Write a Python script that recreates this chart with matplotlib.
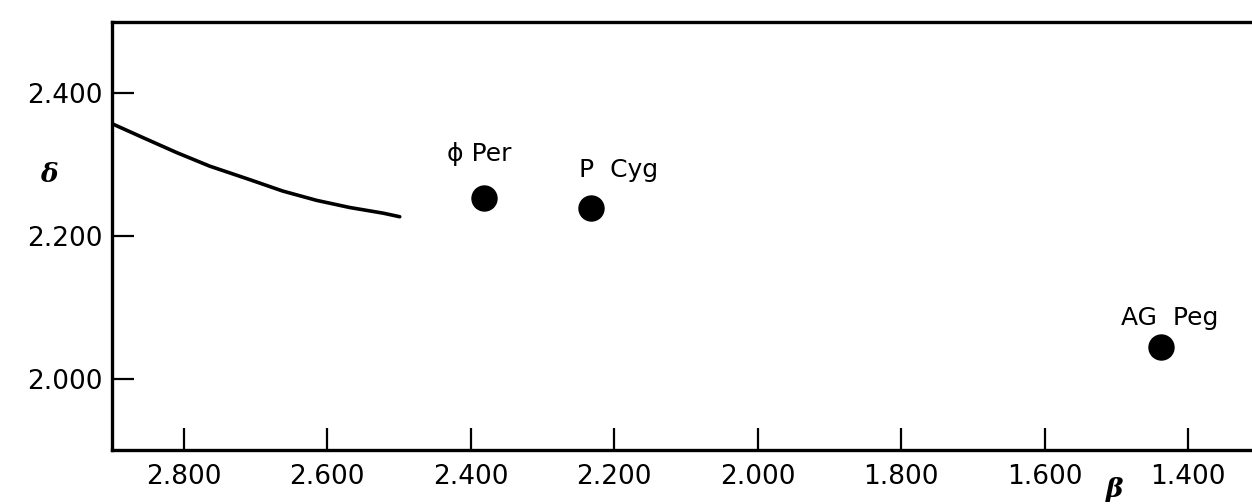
import matplotlib
matplotlib.use("Agg")
import matplotlib.pyplot as plt

# ---- data ----
curve_beta = [2.899, 2.857, 2.810, 2.764, 2.708, 2.662, 2.615, 2.569, 2.522, 2.499]
curve_delta = [2.357, 2.338, 2.317, 2.298, 2.279, 2.263, 2.250, 2.240, 2.232, 2.227]

star_names = ["\u03d5 Per", "P  Cyg", "AG  Peg"]
star_beta = [2.382, 2.233, 1.438]
star_delta = [2.253, 2.239, 2.044]

x_ticks = [2.8, 2.6, 2.4, 2.2, 2.0, 1.8, 1.6, 1.4]
x_ticklabels = ["2.800", "2.600", "2.400", "2.200", "2.000", "1.800", "1.600", "1.400"]
y_ticks = [2.0, 2.2, 2.4]
y_ticklabels = ["2.000", "2.200", "2.400"]

# ---- figure ----
DPI = 100
fig = plt.figure(figsize=(12.52, 5.04), dpi=DPI)
ax = fig.add_axes([112 / 1252, 54 / 504, 1148 / 1252, 428 / 504])

ax.set_xlim(2.9, 1.3)
ax.set_ylim(1.9, 2.5)

ax.plot(curve_beta, curve_delta, color="black", lw=2.6,
        solid_capstyle="round", solid_joinstyle="round")
ax.plot(star_beta, star_delta, "o", color="black", markersize=18)

# label offsets (points) relative to each star
offsets = [(-3, 26.5), (-8, 22.5), (-29, 16)]
aligns = ["center", "left", "left"]
for name, b, d, off, ha in zip(star_names, star_beta, star_delta, offsets, aligns):
    ax.annotate(name, (b, d), xytext=off, textcoords="offset points",
                ha=ha, va="baseline", fontsize=18, color="black")

ax.set_xticks(x_ticks)
ax.set_xticklabels(x_ticklabels)
ax.set_yticks(y_ticks)
ax.set_yticklabels(y_ticklabels)

ax.tick_params(axis="both", direction="in", length=16, width=1.6,
               labelsize=19, colors="black")
ax.tick_params(axis="x", pad=10)
ax.tick_params(axis="y", pad=7)

for s in ["left", "bottom", "top"]:
    ax.spines[s].set_linewidth(2.4)
ax.spines["right"].set_visible(False)

fig.text(49 / 1252, 1 - 175 / 504, "\u03b4", fontsize=19, fontweight="bold",
         fontstyle="italic", family="DejaVu Serif", ha="center", va="center")
fig.text(1115 / 1252, 1 - 490 / 504, "\u03b2", fontsize=19, fontweight="bold",
         fontstyle="italic", family="DejaVu Serif", ha="center", va="center")

fig.savefig("out.png", dpi=DPI)
